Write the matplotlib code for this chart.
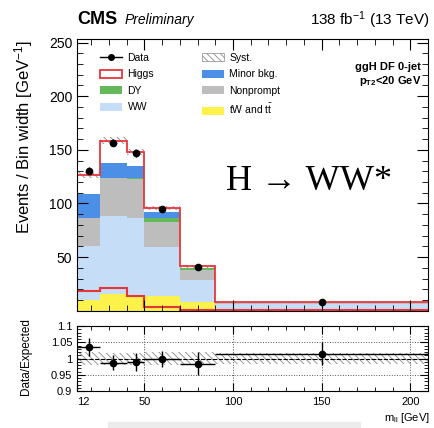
import numpy as np
import matplotlib
matplotlib.use('Agg')
import matplotlib.pyplot as plt
from matplotlib.patches import Patch, Rectangle
from matplotlib.lines import Line2D
from matplotlib.ticker import MultipleLocator, FixedLocator

plt.rcParams['font.family'] = ['Liberation Sans', 'DejaVu Sans']
plt.rcParams['mathtext.fontset'] = 'custom'
plt.rcParams['mathtext.rm'] = 'Liberation Sans'
plt.rcParams['mathtext.it'] = 'Liberation Sans:italic'
plt.rcParams['mathtext.bf'] = 'Liberation Sans:bold'
plt.rcParams['mathtext.default'] = 'regular'
plt.rcParams['hatch.color'] = '#8a8a8a'
plt.rcParams['hatch.linewidth'] = 0.6

# m_ll bins [GeV]
bin_edges = [12, 25, 40, 50, 70, 90, 210]

# events / bin width, stack order bottom -> top
tw_tt = [10, 15.5, 14.5, 13.5, 8.5, 0.8]
ww = [50.5, 72.5, 72, 46, 20, 5.9]
nonprompt = [25.5, 35.3, 36.2, 22.8, 9.4, 0.3]
dy = [0.5, 0.9, 1.5, 3.7, 1.5, 0.1]
minor_bkg = [22, 13.7, 10.3, 6.2, 0.9, 0.4]
higgs = [18, 20.8, 13.5, 3.7, 1.0, 0.3]
syst = [2.5, 3, 3, 2, 1, 0.3]

data = [130.4, 156.8, 146.6, 95.3, 40.4, 8.0]
data_err = [3.3, 3.3, 3.3, 2.3, 1.5, 0.3]

# lower panel
ratio = [1.035, 0.988, 0.99, 1.0, 0.985, 1.015]
ratio_err = [0.027, 0.022, 0.027, 0.025, 0.036, 0.035]
ratio_syst = [0.02, 0.018, 0.018, 0.02, 0.02, 0.017]

c_tw = '#fdf24c'
c_ww = '#c5ddf7'
c_np = '#bdbdbd'
c_dy = '#63b95a'
c_minor = '#4c8fe6'
c_higgs = '#e8353a'

edges = np.array(bin_edges, dtype=float)
centers = (edges[:-1] + edges[1:]) / 2
halfw = (edges[1:] - edges[:-1]) / 2

fig = plt.figure(figsize=(4.35, 4.28), dpi=100)
ax = fig.add_axes([0.177, 0.274, 0.807, 0.634])
rax = fig.add_axes([0.177, 0.086, 0.807, 0.152])

# stacked backgrounds
bottom = np.zeros(len(tw_tt))
for vals, col in [(tw_tt, c_tw), (ww, c_ww), (nonprompt, c_np), (dy, c_dy), (minor_bkg, c_minor)]:
    top = bottom + np.array(vals)
    ax.stairs(top, edges, baseline=bottom, fill=True, color=col, lw=0)
    bottom = top
total = bottom + np.array(higgs)

# syst band + total (higgs on top, hollow)
ax.stairs(total + np.array(syst), edges, baseline=total - np.array(syst), fill=True,
          facecolor='none', edgecolor='#8a8a8a', hatch='\\\\\\\\\\', lw=0)
ax.stairs(total, edges, baseline=None, color=c_higgs, lw=1.3)
ax.stairs(higgs, edges, baseline=None, color=c_higgs, lw=1.5)

ax.errorbar(centers, data, yerr=data_err, fmt='o', color='k', ms=4.5, lw=1, capsize=0)

ax.set_xlim(edges[0], edges[-1])
ax.set_ylim(0, 253)
ax.xaxis.set_major_locator(FixedLocator([50, 100, 150, 200]))
ax.xaxis.set_minor_locator(MultipleLocator(10))
ax.yaxis.set_major_locator(FixedLocator([50, 100, 150, 200, 250]))
ax.yaxis.set_minor_locator(MultipleLocator(10))
ax.tick_params(which='both', direction='in', top=True, right=True, labelbottom=False, labelsize=10)
ax.tick_params(which='major', length=8)
ax.tick_params(which='minor', length=4)

# legend
handles = [
    Line2D([], [], color='k', marker='o', ms=4, lw=1),
    Patch(facecolor='white', edgecolor=c_higgs, lw=1.3),
    Patch(facecolor=c_dy, edgecolor='none'),
    Patch(facecolor=c_ww, edgecolor='none'),
    Patch(facecolor='white', edgecolor='#8a8a8a', hatch='\\\\\\\\\\', lw=0.5),
    Patch(facecolor=c_minor, edgecolor='none'),
    Patch(facecolor=c_np, edgecolor='none'),
    Patch(facecolor=c_tw, edgecolor='none'),
]
labels = ['Data', 'Higgs', 'DY', 'WW', 'Syst.', 'Minor bkg.', 'Nonprompt', r'tW and t$\bar{t}$']
ax.legend(handles, labels, ncol=2, loc='upper left', bbox_to_anchor=(0.04, 0.985), frameon=False,
          fontsize=7.5, handlelength=2.1, handleheight=0.8, handletextpad=0.5,
          columnspacing=4.6, labelspacing=0.62)

fig.text(421 / 435, 1 - 70 / 428, 'ggH DF 0-jet', ha='right', fontweight='bold', fontsize=8)
fig.text(421 / 435, 1 - 84 / 428, r'p$_\mathbf{T2}$<20 GeV', ha='right', fontweight='bold', fontsize=8)
fig.text(226 / 435, 1 - 190 / 428, 'H \u2192 WW*', family=['Liberation Serif', 'DejaVu Serif'], fontsize=26)

# ratio panel
rax.stairs(1 + np.array(ratio_syst), edges, baseline=1 - np.array(ratio_syst), fill=True,
           facecolor='none', edgecolor='#8a8a8a', hatch='\\\\\\\\\\', lw=0)
rax.grid(True, ls=':', color='#555555', lw=0.7)
rax.axhline(1, ls='--', color='k', lw=0.8)
rax.errorbar(centers, ratio, xerr=halfw, yerr=ratio_err, fmt='o', color='k', ms=4.5, lw=1, capsize=0)
rax.set_xlim(edges[0], edges[-1])
rax.set_ylim(0.9, 1.1)
rax.yaxis.set_major_locator(FixedLocator([0.9, 0.95, 1.0, 1.05, 1.1]))
rax.set_yticklabels(['0.9', '0.95', '1', '1.05', '1.1'])
rax.yaxis.set_minor_locator(MultipleLocator(0.01))
rax.xaxis.set_major_locator(FixedLocator([12, 50, 100, 150, 200]))
rax.set_xticklabels(['12', '50', '100', '150', '200'])
rax.get_xticklabels()[0].set_ha('left')
rax.xaxis.set_minor_locator(MultipleLocator(10))
rax.tick_params(which='both', direction='in', top=True, right=True, labelsize=8)
rax.tick_params(axis='x', pad=4)
rax.tick_params(which='major', length=6)
rax.tick_params(which='minor', length=3)

fig.text(24 / 435, 1 - 40 / 428, 'Events / Bin width [GeV$^{-1}$]', rotation=90, ha='center', va='top', fontsize=12)
fig.text(26 / 435, 1 - 318 / 428, 'Data/Expected', rotation=90, ha='center', va='top', fontsize=8.5)
fig.text(430 / 435, 1 - 421 / 428, 'm$_{ll}$ [GeV]', ha='right', va='baseline', fontsize=8)

fig.text(77 / 435, 1 - 24 / 428, 'CMS', fontweight='bold', fontsize=13)
fig.text(125 / 435, 1 - 24 / 428, 'Preliminary', style='italic', fontsize=10)
fig.text(430 / 435, 1 - 25 / 428, '138 fb$^{-1}$ (13 TeV)', ha='right', fontsize=11)

fig.patches.append(Rectangle((108 / 435, 0), 252 / 435, 6.5 / 428, transform=fig.transFigure,
                             color='#ececec', zorder=0))

fig.savefig('out.png', dpi=100)
